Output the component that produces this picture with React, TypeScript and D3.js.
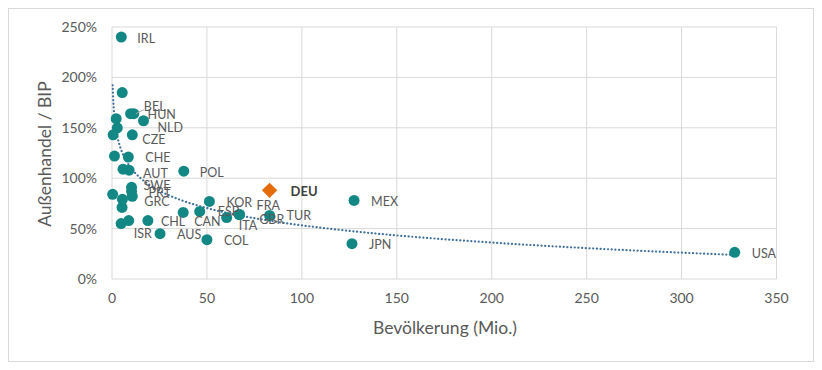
import React from 'react';
import * as d3 from 'd3';

// OECD countries: population (Mio.) vs. foreign trade / GDP (%)
const countries = ['IRL', 'SVK', 'BEL', 'HUN', 'NLD', 'SVN', 'LTU', 'LUX', 'CZE', 'EST', 'CHE', 'DNK', 'AUT', 'POL',
  'SWE', 'PRT', 'GRC', 'ISL', 'FIN', 'NOR', 'NZL', 'ISR', 'CHL', 'AUS', 'COL', 'CAN', 'ESP', 'KOR', 'ITA', 'FRA',
  'GBR', 'TUR', 'MEX', 'JPN', 'USA'];
const population = [4.9, 5.4, 11.5, 9.8, 16.6, 2.2, 2.8, 0.6, 10.7, 1.3, 8.6, 5.8, 9.0, 37.8,
  10.3, 10.3, 10.7, 0.36, 5.5, 5.3, 4.8, 8.8, 18.9, 25.3, 50.0, 37.5, 46.2, 51.3, 60.4, 67.2,
  67.0, 83.0, 127.5, 126.4, 328];
const tradeShare = [240, 185, 164, 164, 157, 159, 150, 143, 143, 122, 121, 109, 108, 107,
  91, 87, 82, 84, 79, 71, 55, 58, 58, 45, 39, 66, 67, 77, 61, 64,
  64, 63, 78, 35, 26.5];
const labelled = ['IRL', 'BEL', 'HUN', 'NLD', 'CZE', 'CHE', 'AUT', 'POL', 'SWE', 'PRT', 'GRC', 'ISR', 'CHL', 'AUS',
  'COL', 'CAN', 'ESP', 'KOR', 'ITA', 'FRA', 'GBR', 'TUR', 'MEX', 'JPN', 'USA'];

const highlight = { name: 'DEU', population: 83.0, tradeShare: 88 };

// Excel logarithmic trend line y = a + b*ln(x), coefficients
const trendIntercept = 167;
const trendSlope = -24.7;

const xTicks = [0, 50, 100, 150, 200, 250, 300, 350];
const yTicks = [0, 50, 100, 150, 200, 250];

// manual label nudges (Excel labels were dragged around)
const labelNudge: Record<string, [number, number]> = {
  IRL: [16, 2], BEL: [10, -7], NLD: [14, 7], CZE: [10, 5], AUT: [14, 3], SWE: [12, -2],
  GRC: [12, 5], CHL: [13, 1], ISR: [5, 13], CAN: [11, 9], ESP: [18, 0], ITA: [12, 8],
  FRA: [17, -9], GBR: [20, 5], TUR: [17, 0], POL: [16, 1], DEU: [21, 1],
};

const W = 822, H = 370;
const left = 112, right = 776.5, top = 27, bottom = 279;
const font = 'Lato, "Open Sans", sans-serif';
const teal = '#138784';
const grey = '#595959';

const App = () => {
  const x = d3.scaleLinear().domain([0, 350]).range([left, right]);
  const y = d3.scaleLinear().domain([0, 250]).range([bottom, top]);

  const pts = countries.map((c, i) => ({ name: c, px: population[i], py: tradeShare[i] }));

  const xMin = d3.min(population) as number;
  const xMax = d3.max(population) as number;
  const trendX = d3.range(0, 301).map(i => xMin * Math.pow(xMax / xMin, i / 300));
  const trend = d3.line<number>()
    .x(v => x(v))
    .y(v => y(Math.min(250, trendIntercept + trendSlope * Math.log(v))));

  const nudge = (n: string) => labelNudge[n] || [17, 1];
  const bel = pts.find(p => p.name === 'BEL')!;

  return (
    <svg width={W} height={H} style={{ position: 'absolute', left: 0, top: 0, background: '#fff' }}>
      <rect x={8.5} y={8.5} width={805} height={353} fill="#fff" stroke="#d9d9d9" />
      {xTicks.map(t => (
        <line key={'gx' + t} x1={x(t)} x2={x(t)} y1={top} y2={bottom} stroke="#d9d9d9" />
      ))}
      {yTicks.map(t => (
        <line key={'gy' + t} x1={left} x2={right} y1={y(t)} y2={y(t)} stroke="#d9d9d9" />
      ))}
      {xTicks.map(t => (
        <text key={'tx' + t} x={x(t)} y={y(0) + 24} textAnchor="middle" fontFamily={font} fontSize={14} fill={grey}>{t}</text>
      ))}
      {yTicks.map(t => (
        <text key={'ty' + t} x={97} y={y(t)} dy="0.35em" textAnchor="end" fontFamily={font} fontSize={14} fill={grey}>{t}%</text>
      ))}
      <text x={445} y={334} textAnchor="middle" fontFamily={font} fontSize={17.5} fill={grey}>Bevölkerung (Mio.)</text>
      <text transform={`translate(51,154) rotate(-90)`} textAnchor="middle" fontFamily={font} fontSize={17.5} fill={grey}>Außenhandel / BIP</text>

      <path d={trend(trendX) || ''} fill="none" stroke="#41719c" strokeWidth={2.2} strokeDasharray="0.1 3.6" strokeLinecap="round" />

      {pts.map(p => (
        <circle key={p.name} cx={x(p.px)} cy={y(p.py)} r={5.5} fill={teal} />
      ))}
      <line x1={x(bel.px) + 2} y1={y(bel.py)} x2={x(bel.px) + 10} y2={y(bel.py) - 4} stroke="#a6a6a6" />
      {pts.filter(p => labelled.includes(p.name)).map(p => (
        <text key={'l' + p.name} x={x(p.px) + nudge(p.name)[0]} y={y(p.py) + nudge(p.name)[1]} dy="0.35em"
          fontFamily={font} fontSize={12.5} fill={grey}>{p.name}</text>
      ))}

      <path d={d3.symbol().type(d3.symbolDiamond2).size(150)() || ''}
        transform={`translate(${x(highlight.population)},${y(highlight.tradeShare)})`} fill="#e46c0a" />
      <text x={x(highlight.population) + nudge('DEU')[0]} y={y(highlight.tradeShare) + nudge('DEU')[1]} dy="0.35em"
        fontFamily={font} fontSize={13} fontWeight="bold" fill="#404040">{highlight.name}</text>
    </svg>
  );
};

export default App;
